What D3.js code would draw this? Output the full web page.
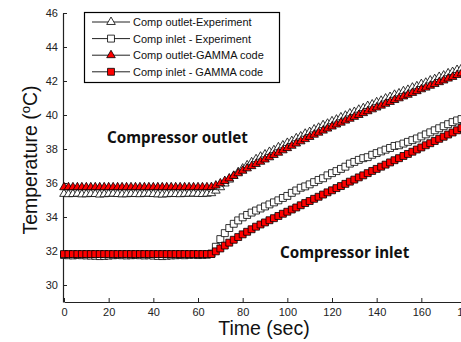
<!DOCTYPE html>
<html>
<head>
<meta charset="utf-8">
<script src="https://cdn.jsdelivr.net/npm/d3@7"></script>
<style>
  body { margin: 0; background: #fff; }
  svg { display: block; font-family: "Liberation Sans", Arial, sans-serif; }
</style>
</head>
<body>
<div id="chart"></div>
<script>
// sample times (sec)
const times = [0,2,4,6,8,10,12,14,16,18,20,22,24,26,28,30,32,34,36,38,40,42,44,46,48,50,52,54,56,58,60,62,64,
  66,68,70,72,74,76,78,80,82,84,86,88,90,92,94,96,98,100,102,104,106,108,110,112,114,116,118,120,
  122,124,126,128,130,132,134,136,138,140,142,144,146,148,150,152,154,156,158,160,162,164,166,168,170,
  172,174,176,178,180];

// Comp outlet - Experiment
const outletExp = [35.36,35.34,35.35,35.37,35.33,35.34,35.36,35.35,35.32,35.34,35.36,35.37,35.35,35.33,35.34,35.36,35.35,
  35.34,35.36,35.37,35.35,35.33,35.32,35.34,35.36,35.35,35.34,35.36,35.37,35.38,35.36,35.35,35.37,
  35.40,35.55,35.75,35.97,36.20,36.42,36.64,36.85,37.04,37.22,37.40,37.55,37.68,
  37.83,37.93,38.10,38.21,38.36,38.47,38.63,38.74,38.90,39.00,39.15,39.25,39.40,39.49,39.63,
  39.73,39.86,39.96,40.09,40.18,40.31,40.40,40.53,40.62,40.75,40.84,40.97,41.06,41.19,41.27,
  41.40,41.48,41.61,41.69,41.82,41.90,42.03,42.11,42.24,42.32,42.45,42.53,42.65,42.74,42.85];

// Comp inlet - Experiment
const inletExp = [31.76,31.75,31.74,31.76,31.75,31.74,31.73,31.72,31.70,31.71,31.73,31.75,31.76,31.75,31.74,31.75,31.76,
  31.75,31.74,31.75,31.73,31.71,31.70,31.72,31.74,31.75,31.76,31.75,31.77,31.78,31.76,31.77,31.78,
  31.85,32.25,32.70,33.05,33.35,33.60,33.80,33.98,34.12,34.26,34.38,34.50,34.62,
  34.74,34.86,34.98,35.12,35.24,35.42,35.56,35.72,35.80,35.92,36.05,36.18,36.28,36.45,36.58,
  36.70,36.83,36.96,37.14,37.24,37.36,37.46,37.52,37.66,37.76,37.86,37.96,38.06,38.18,38.22,
  38.32,38.42,38.52,38.62,38.74,38.86,38.98,39.10,39.22,39.34,39.46,39.58,39.68,39.76,39.84];

// Comp outlet - GAMMA code
const outletGamma = [35.75,35.75,35.75,35.75,35.75,35.75,35.75,35.75,35.75,35.75,35.75,35.75,35.75,35.75,35.75,35.75,35.75,
  35.75,35.75,35.75,35.75,35.75,35.75,35.75,35.75,35.75,35.75,35.75,35.75,35.75,35.75,35.75,35.75,
  35.76,35.85,35.98,36.12,36.27,36.42,36.57,36.72,36.86,36.99,37.12,37.25,37.38,
  37.51,37.65,37.78,37.92,38.05,38.19,38.32,38.45,38.58,38.71,38.84,38.96,39.08,39.20,39.32,
  39.44,39.55,39.67,39.78,39.89,40.00,40.11,40.22,40.33,40.44,40.55,40.66,40.77,40.88,40.98,
  41.09,41.19,41.30,41.40,41.51,41.61,41.72,41.82,41.93,42.03,42.14,42.24,42.35,42.45,42.55];

// Comp inlet - GAMMA code
const inletGamma = [31.82,31.82,31.82,31.82,31.82,31.82,31.82,31.82,31.82,31.82,31.82,31.82,31.82,31.82,31.82,31.82,31.82,
  31.82,31.82,31.82,31.82,31.82,31.82,31.82,31.82,31.82,31.82,31.82,31.82,31.82,31.82,31.82,31.82,
  31.82,31.98,32.15,32.32,32.49,32.66,32.82,32.98,33.13,33.28,33.43,33.56,33.68,
  33.81,33.93,34.06,34.19,34.31,34.44,34.56,34.69,34.82,34.94,35.07,35.19,35.32,35.45,35.57,
  35.70,35.82,35.95,36.08,36.20,36.33,36.45,36.58,36.71,36.83,36.96,37.08,37.21,37.34,37.46,
  37.59,37.71,37.84,37.97,38.09,38.22,38.34,38.47,38.60,38.72,38.85,38.97,39.10,39.23,39.35];

const xTicks = [0, 20, 40, 60, 80, 100, 120, 140, 160, 180];
const yTicks = [30, 32, 34, 36, 38, 40, 42, 44, 46];

const seriesNames = ["Comp outlet-Experiment", "Comp inlet - Experiment", "Comp outlet-GAMMA code", "Comp inlet - GAMMA code"];
const seriesValues = [outletExp, inletExp, outletGamma, inletGamma];
const seriesShape = ["tri", "sq", "tri", "sq"];
const seriesFill = ["#fff", "#fff", "#f00", "#f00"];

const width = 461, height = 342;

const svg = d3.select("#chart").append("svg")
  .attr("width", width)
  .attr("height", height);

const x = d3.scaleLinear().domain([0, 180]).range([64, 466]);
const y = d3.scaleLinear().domain([29, 46]).range([302, 13]);

// marker paths
const triPath = d3.symbol().type(d3.symbolTriangle).size(32)();
const sqPath = d3.symbol().type(d3.symbolSquare).size(48)();
const shapePath = s => s === "tri" ? triPath : sqPath;

// axes, ticks pointing inward
const xAxis = svg.append("g")
  .attr("transform", `translate(0,${y(29)})`)
  .call(d3.axisBottom(x).tickValues(xTicks).tickSize(-4).tickPadding(6).tickSizeOuter(0));
const yAxis = svg.append("g")
  .attr("transform", `translate(${x(0) - 1},0)`)
  .call(d3.axisLeft(y).tickValues(yTicks).tickSize(-4).tickPadding(5).tickSizeOuter(0));

[xAxis, yAxis].forEach(g => {
  g.select(".domain").attr("stroke", "#222").attr("stroke-width", 1.2);
  g.selectAll(".tick line").attr("stroke", "#222");
  g.selectAll(".tick text").attr("fill", "#222").style("font-size", "11px")
    .style("font-family", "'Liberation Sans', Arial, sans-serif");
});

// series: connecting line + dense markers
const line = d3.line().x(d => x(d[0])).y(d => y(d[1]));

seriesValues.forEach((vals, i) => {
  const pts = times.map((t, j) => [t, vals[j]]).filter(d => d[1] != null);
  svg.append("path")
    .attr("d", line(pts))
    .attr("fill", "none")
    .attr("stroke", "#222")
    .attr("stroke-width", 1);
  svg.append("g").selectAll("path")
    .data(pts)
    .enter()
    .append("path")
    .attr("d", shapePath(seriesShape[i]))
    .attr("transform", d => `translate(${x(d[0])},${y(d[1])})`)
    .attr("fill", seriesFill[i])
    .attr("stroke", "#000")
    .attr("stroke-width", 0.8);
});

// legend
const legend = svg.append("g");
legend.append("rect")
  .attr("x", 84.5).attr("y", 12.5)
  .attr("width", 195).attr("height", 70)
  .attr("fill", "#fff")
  .attr("stroke", "#000")
  .attr("stroke-width", 1.2);

seriesNames.forEach((name, i) => {
  const ly = 22 + i * 16.6;
  legend.append("line")
    .attr("x1", 92).attr("x2", 130)
    .attr("y1", ly).attr("y2", ly)
    .attr("stroke", "#222");
  legend.append("path")
    .attr("d", shapePath(seriesShape[i]))
    .attr("transform", `translate(111,${ly})`)
    .attr("fill", seriesFill[i])
    .attr("stroke", "#000")
    .attr("stroke-width", 0.8);
  legend.append("text")
    .attr("x", 133).attr("y", ly + 4)
    .style("font-size", "11px")
    .attr("fill", "#111")
    .text(name);
});

// axis titles
svg.append("text")
  .attr("x", 264).attr("y", 335)
  .attr("text-anchor", "middle")
  .style("font-size", "19.5px")
  .attr("fill", "#111")
  .text("Time (sec)");

const yTitle = svg.append("text")
  .attr("transform", "translate(37,160) rotate(-90)")
  .attr("text-anchor", "middle")
  .style("font-size", "19.5px")
  .attr("fill", "#111");
yTitle.append("tspan").text("Temperature (");
yTitle.append("tspan").attr("dy", -7).style("font-size", "13px").text("o");
yTitle.append("tspan").attr("dy", 7).text("C)");

// annotations
svg.append("text")
  .attr("x", 107).attr("y", 143)
  .style("font-family", "'Noto Sans', 'Open Sans', sans-serif")
  .style("font-weight", "bold")
  .style("font-size", "15.2px")
  .attr("fill", "#111")
  .text("Compressor outlet");

svg.append("text")
  .attr("x", 280).attr("y", 258)
  .style("font-family", "'Noto Sans', 'Open Sans', sans-serif")
  .style("font-weight", "bold")
  .style("font-size", "15.2px")
  .attr("fill", "#111")
  .text("Compressor inlet");
</script>
</body>
</html>
